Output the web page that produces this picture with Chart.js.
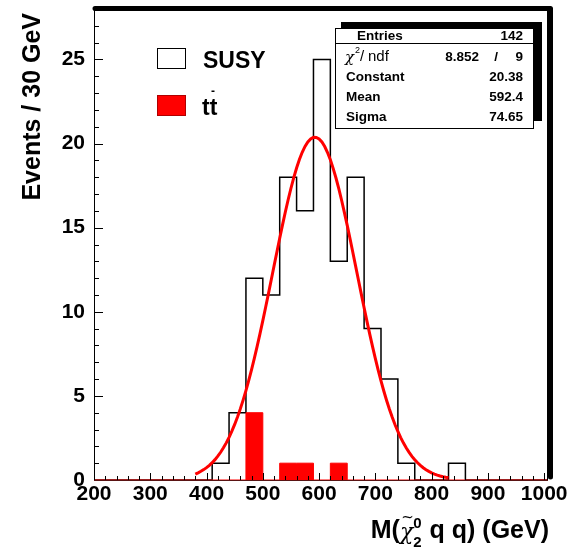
<!DOCTYPE html>
<html>
<head>
<meta charset="utf-8">
<script src="https://cdn.jsdelivr.net/npm/chart.js@4.4.1/dist/chart.umd.min.js"></script>
<style>
  html, body { margin: 0; padding: 0; background: #fff; }
  #wrap { width: 571px; height: 550px; }
</style>
</head>
<body>
<div id="wrap"><canvas id="graficoMasa"></canvas></div>
<script>
// histogram binning: 30 GeV bins starting at 200 GeV
const binStart = 200;
const binWidth = 30;
const susyEvents  = [0, 0, 0, 0, 0, 0, 0, 1, 4, 12, 11, 18, 16, 25, 13, 18, 9, 6, 1, 0, 0, 1, 0, 0, 0, 0, 0];
const ttbarEvents = [0, 0, 0, 0, 0, 0, 0, 0, 0, 4, 0, 1, 1, 0, 1, 0, 0, 0, 0, 0, 0, 0, 0, 0, 0, 0, 0];
const xTicks = [200, 300, 400, 500, 600, 700, 800, 900, 1000];
const yTicks = [0, 5, 10, 15, 20, 25];

// gaussian fit result
const fitConstant = 20.38;
const fitMean = 592.4;
const fitSigma = 74.65;
const fitRange = [380, 830];
const entries = 142;
const chi2 = 8.852;
const ndf = 9;

const FONT = "'Liberation Sans', Arial, Helvetica, sans-serif";

function histPoints(counts) {
  const pts = counts.map((c, i) => ({ x: binStart + i * binWidth, y: c }));
  pts.push({ x: binStart + counts.length * binWidth, y: counts[counts.length - 1] });
  return pts;
}

function fitPoints() {
  const pts = [];
  for (let x = fitRange[0]; x <= fitRange[1]; x += 5) {
    const t = (x - fitMean) / fitSigma;
    pts.push({ x: x, y: fitConstant * Math.exp(-0.5 * t * t) });
  }
  return pts;
}

// frame, inner ticks, legend, stats box and axis titles
const rootStyle = {
  id: "rootStyle",
  afterDatasetsDraw(chart) {
    const ctx = chart.ctx;
    const a = chart.chartArea;
    const sx = chart.scales.x;
    const sy = chart.scales.y;
    ctx.save();
    ctx.strokeStyle = "#000";
    ctx.lineWidth = 1;
    ctx.beginPath();
    for (let v = 200; v <= 1000; v += 20) {
      const px = Math.round(sx.getPixelForValue(v)) + 0.5;
      const len = v % 100 === 0 ? 7 : 4;
      ctx.moveTo(px, a.bottom);
      ctx.lineTo(px, a.bottom - len);
    }
    for (let v = 0; v <= 28; v++) {
      const py = Math.round(sy.getPixelForValue(v)) + 0.5;
      const len = v % 5 === 0 ? 9 : 5;
      ctx.moveTo(a.left, py);
      ctx.lineTo(a.left + len, py);
    }
    ctx.stroke();

    // frame: left/top/right thin, bottom edge tinted by the tt line at zero
    ctx.beginPath();
    ctx.moveTo(a.left + 0.5, a.bottom + 0.5);
    ctx.lineTo(a.left + 0.5, a.top + 0.5);
    ctx.lineTo(a.right + 0.5, a.top + 0.5);
    ctx.lineTo(a.right + 0.5, a.bottom + 0.5);
    ctx.stroke();
    ctx.strokeStyle = "#5a1414";
    ctx.beginPath();
    ctx.moveTo(a.left, a.bottom + 0.5);
    ctx.lineTo(a.right + 1, a.bottom + 0.5);
    ctx.stroke();

    // heavy top/right edge
    ctx.strokeStyle = "#000";
    ctx.lineWidth = 5;
    ctx.lineCap = "round";
    ctx.lineJoin = "round";
    ctx.beginPath();
    ctx.moveTo(a.left + 1, a.top - 0.5);
    ctx.lineTo(a.right + 3.5, a.top - 0.5);
    ctx.lineTo(a.right + 3.5, a.bottom - 3);
    ctx.stroke();
    ctx.restore();
  },
  afterDraw(chart) {
    const ctx = chart.ctx;
    ctx.save();
    ctx.fillStyle = "#000";
    ctx.textBaseline = "alphabetic";

    // legend
    ctx.lineWidth = 1;
    ctx.fillStyle = "#fff";
    ctx.fillRect(157.5, 48.5, 28, 20);
    ctx.strokeStyle = "#000";
    ctx.strokeRect(157.5, 48.5, 28, 20);
    ctx.fillStyle = "#ff0000";
    ctx.fillRect(157.5, 95.5, 28, 20);
    ctx.strokeStyle = "#b00000";
    ctx.strokeRect(157.5, 95.5, 28, 20);
    ctx.fillStyle = "#000";
    ctx.font = "bold 23px " + FONT;
    ctx.textAlign = "left";
    ctx.fillText("SUSY", 203, 67.5);
    ctx.fillText("tt", 202, 115);
    ctx.fillRect(211.5, 90.5, 3, 1.5);

    // stats box
    ctx.fillStyle = "#000";
    ctx.fillRect(341, 22, 201, 99);
    ctx.fillStyle = "#fff";
    ctx.fillRect(335, 28, 198, 100);
    ctx.strokeStyle = "#000";
    ctx.lineWidth = 1;
    ctx.strokeRect(335.5, 28.5, 198, 100);
    ctx.beginPath();
    ctx.moveTo(335, 43.5);
    ctx.lineTo(533, 43.5);
    ctx.stroke();

    ctx.fillStyle = "#000";
    ctx.textBaseline = "middle";
    ctx.font = "bold 13.5px " + FONT;
    ctx.textAlign = "left";
    ctx.fillText("Entries", 357, 36);
    ctx.fillText("Constant", 346, 77);
    ctx.fillText("Mean", 346, 97);
    ctx.fillText("Sigma", 346, 117);
    ctx.textAlign = "right";
    ctx.fillText(String(entries), 523, 36);
    ctx.fillText(chi2.toFixed(3), 479, 57);
    ctx.fillText("/", 498, 57);
    ctx.fillText(String(ndf), 523, 57);
    ctx.fillText(fitConstant.toFixed(2), 523, 77);
    ctx.fillText(fitMean.toFixed(1), 523, 97);
    ctx.fillText(fitSigma.toFixed(2), 523, 117);

    ctx.textAlign = "left";
    ctx.font = "italic 15px 'DejaVu Serif', serif";
    ctx.fillText("\u03C7", 345, 58);
    ctx.font = "9px " + FONT;
    ctx.fillText("2", 355, 51);
    ctx.font = "15px " + FONT;
    ctx.fillText("/", 360, 57);
    ctx.fillText("ndf", 368, 57);

    // y axis title
    ctx.save();
    ctx.translate(40, 13);
    ctx.rotate(-Math.PI / 2);
    ctx.textAlign = "right";
    ctx.textBaseline = "alphabetic";
    ctx.font = "bold 25px " + FONT;
    ctx.fillText("Events / 30 GeV", 0, 0);
    ctx.restore();

    // x axis title: M(chi~_2^0 q q) (GeV), right-aligned to the axis end
    ctx.textBaseline = "alphabetic";
    ctx.textAlign = "left";
    const mainFont = "bold 25px " + FONT;
    const chiFont = "italic 22px 'DejaVu Serif', serif";
    const idxFont = "bold 15px " + FONT;
    ctx.font = mainFont;
    const wM = ctx.measureText("M(").width;
    const wRest = ctx.measureText(" q q) (GeV)").width;
    ctx.font = chiFont;
    const wChi = ctx.measureText("\u03C7").width;
    ctx.font = idxFont;
    const wIdx = ctx.measureText("0").width + 1;
    let x = 549 - (wM + wChi + wIdx + wRest);
    const base = 538;
    ctx.font = mainFont;
    ctx.fillText("M(", x, base);
    x += wM;
    ctx.font = chiFont;
    ctx.fillText("\u03C7", x, base + 1);
    ctx.font = "15px 'DejaVu Sans', sans-serif";
    ctx.textAlign = "center";
    ctx.fillText("~", x + wChi / 2 + 1, base - 16);
    ctx.textAlign = "left";
    x += wChi;
    ctx.font = idxFont;
    ctx.fillText("0", x, base - 10);
    ctx.fillText("2", x, base + 9);
    x += wIdx;
    ctx.font = mainFont;
    ctx.fillText(" q q) (GeV)", x, base);
    ctx.restore();
  }
};

const grafico = new Chart(document.querySelector("#graficoMasa"), {
  type: "line",
  data: {
    datasets: [
      {
        label: "fit",
        data: fitPoints(),
        borderColor: "#ff0000",
        borderWidth: 3,
        pointRadius: 0,
        tension: 0,
        fill: false,
      },
      {
        label: "tt",
        data: histPoints(ttbarEvents),
        stepped: true,
        borderColor: "#ff0000",
        backgroundColor: "#ff0000",
        borderWidth: 1,
        pointRadius: 0,
        fill: "origin",
      },
      {
        label: "SUSY",
        data: histPoints(susyEvents),
        stepped: true,
        borderColor: "#000000",
        borderWidth: 1.5,
        pointRadius: 0,
        fill: false,
      },
    ],
  },
  options: {
    responsive: true,
    maintainAspectRatio: false,
    devicePixelRatio: 1,
    animation: false,
    layout: { padding: { top: 9, right: 24, left: 0, bottom: 0 } },
    plugins: { legend: { display: false }, tooltip: { enabled: false } },
    scales: {
      x: {
        type: "linear",
        min: 200,
        max: 1005,
        grid: { display: false, drawTicks: false },
        border: { display: false },
        afterBuildTicks: (s) => { s.ticks = xTicks.map((v) => ({ value: v })); },
        afterFit: (s) => {
          s.height = 70;
          s.paddingLeft = 0;
          s.paddingRight = 0;
        },
        ticks: {
          autoSkip: false,
          maxRotation: 0,
          padding: 2,
          color: "#000",
          font: { family: FONT, size: 21, weight: "bold" },
          callback: (v) => String(v),
        },
      },
      y: {
        min: 0,
        max: 28,
        grid: { display: false, drawTicks: false },
        border: { display: false },
        afterBuildTicks: (s) => { s.ticks = yTicks.map((v) => ({ value: v })); },
        afterFit: (s) => {
          s.width = 94;
          s.paddingTop = 0;
          s.paddingBottom = 0;
        },
        ticks: {
          padding: 9,
          color: "#000",
          font: { family: FONT, size: 21, weight: "bold" },
          callback: (v) => String(v),
        },
      },
    },
  },
  plugins: [rootStyle],
});
</script>
</body>
</html>
